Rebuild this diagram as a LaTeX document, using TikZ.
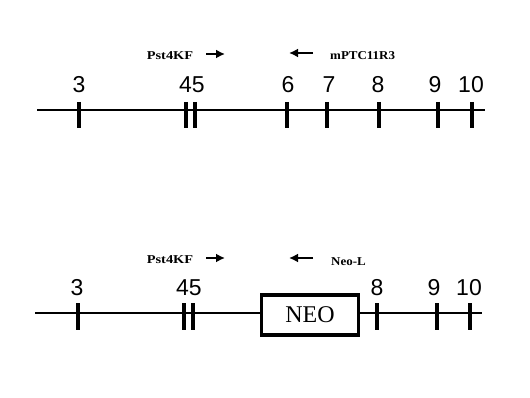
\documentclass[tikz,border=0pt]{standalone}
\usepackage{fontspec}
\setmainfont{Liberation Serif}
\setsansfont{Liberation Sans}
\usetikzlibrary{arrows.meta}
\begin{document}
\begin{tikzpicture}[x=1pt,y=-1pt,
  exon/.style={line width=4.5pt},
  gene/.style={line width=1.8pt},
  num/.style={font=\sffamily\fontsize{23}{23}\selectfont, anchor=base, inner sep=0pt},
  primer/.style={font=\bfseries\fontsize{12}{12}\selectfont, inner sep=0pt},
  parrow/.style={-{Latex[length=9pt,width=9pt]}, line width=1.8pt},
  neobox/.style={draw, line width=3.5pt, minimum width=97pt, minimum height=40pt, font=\fontsize{24}{24}\selectfont}
]
\useasboundingbox (0,0) rectangle (530,398);
% ---------- top gene ----------
\coordinate (t0) at (37,110);
\coordinate (t1) at (485,110);
\draw[gene] (t0) -- (t1);
\foreach \x in {79,186,195,287,327,379,438,472}{
  \draw[exon] (\x,102) -- (\x,128);
}
\node[num] (l3) at (79,93) {3};
\node[num] (l45) at (192,93) {45};
\node[num] (l6) at (288,93) {6};
\node[num] (l7) at (329,93) {7};
\node[num] (l8) at (378,93) {8};
\node[num] (l9) at (435,93) {9};
\node[num] (l10) at (471,93) {10};
% primers top
\node[primer] (p1) at (170,56) {\scalebox{1.2}[1]{Pst4KF}};
\coordinate (a1s) at (206,54);
\coordinate (a1e) at (225,54);
\draw[parrow] (a1s) -- (a1e);
\coordinate (a2s) at (313,53);
\coordinate (a2e) at (289,53);
\draw[parrow] (a2s) -- (a2e);
\node[primer, anchor=west] (p2) at (330,56) {\scalebox{1.08}[1]{mPTC11R3}};
% ---------- bottom gene ----------
\node[neobox] (neo) at (310,315) {NEO};
\coordinate (b0) at (35,313);
\coordinate (b1) at (482,313);
\draw[gene] (b0) -- (b0 -| neo.west);
\draw[gene] (b1 -| neo.east) -- (b1);
\foreach \x in {78,184,193,377,437,470}{
  \draw[exon] (\x,303) -- (\x,330);
}
\node[num] (m3) at (77,295) {3};
\node[num] (m45) at (189,295) {45};
\node[num] (m8) at (377,295) {8};
\node[num] (m9) at (434,295) {9};
\node[num] (m10) at (469,295) {10};
% primers bottom
\node[primer] (q1) at (170,260) {\scalebox{1.2}[1]{Pst4KF}};
\coordinate (c1s) at (206,258);
\coordinate (c1e) at (225,258);
\draw[parrow] (c1s) -- (c1e);
\coordinate (c2s) at (313,258);
\coordinate (c2e) at (289,258);
\draw[parrow] (c2s) -- (c2e);
\node[primer, anchor=west] (q2) at (331,262) {\scalebox{1.08}[1]{Neo-L}};
\end{tikzpicture}
\end{document}
